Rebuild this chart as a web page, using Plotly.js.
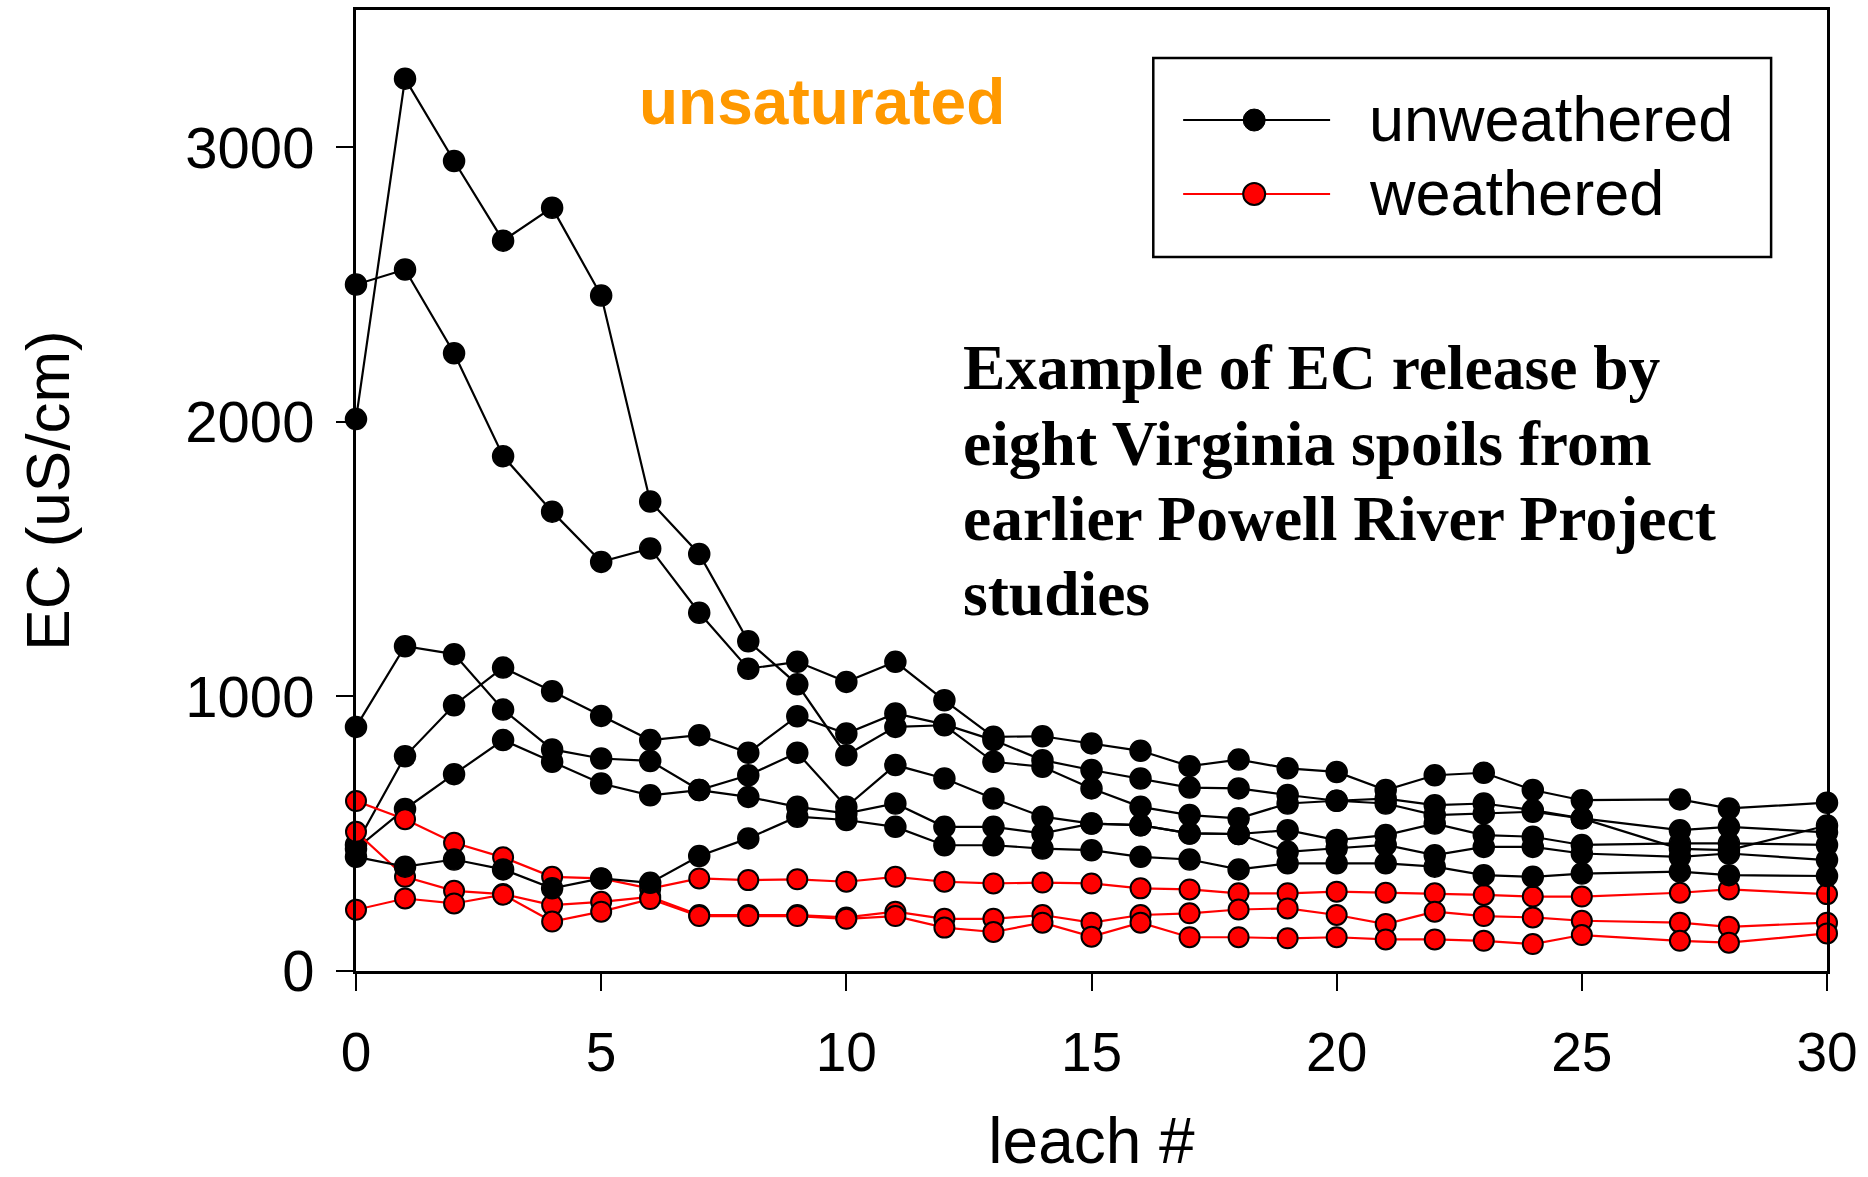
<!DOCTYPE html>
<html>
<head>
<meta charset="utf-8">
<script src="https://cdn.plot.ly/plotly-3.0.1.min.js"></script>
<style>
  html, body { margin: 0; padding: 0; background: #ffffff; }
  #chart { width: 1868px; height: 1177px; }
</style>
</head>
<body>
<div id="chart"></div>
<script>
// leach number (x) — leaches 26 and 29 were not sampled
const leach = [0,1,2,3,4,5,6,7,8,9,10,11,12,13,14,15,16,17,18,19,20,21,22,23,24,25,27,28,30];

// unweathered spoils, EC (uS/cm)
const unweathered1 = [2010,3250,2950,2660,2780,2460,1710,1519,1201,1044,786,889,895,762,744,665,598,568,556,610,620,610,568,574,580,556,445,440,530];
const unweathered2 = [2500,2555,2250,1875,1673,1490,1539,1305,1101,1126,1053,1126,986,853,855,829,802,746,770,738,725,659,713,722,659,622,625,592,613];
const unweathered3 = [889,1183,1154,952,807,774,765,659,713,795,598,750,701,628,562,537,531,501,499,513,477,495,537,495,489,459,465,465,459];
const unweathered4 = [460,782,968,1105,1019,929,841,859,795,928,865,938,898,841,768,732,701,668,665,641,620,628,604,610,586,556,513,525,505];
const unweathered5 = [445,590,717,841,762,683,640,659,634,598,574,610,525,525,501,537,531,501,499,434,447,459,422,452,452,428,416,428,404];
const unweathered6 = [416,380,406,370,301,337,321,419,483,562,550,525,458,458,446,440,416,406,370,392,392,392,380,349,343,355,362,349,346];

// weathered spoils, EC (uS/cm)
const weathered1 = [619,553,467,414,343,337,300,337,331,334,325,343,325,319,322,319,301,297,283,283,289,285,283,277,271,271,285,297,280];
const weathered2 = [507,343,292,280,240,252,270,204,204,204,195,216,190,190,204,176,204,210,224,228,204,171,216,200,195,183,176,161,176];
const weathered3 = [223,264,246,278,180,216,262,200,200,200,190,200,158,142,176,125,176,123,123,119,123,115,115,110,98,131,110,103,137];

// text
const legendLabels = ["unweathered", "weathered"];
const noteLines = ["Example of EC release by", "eight Virginia spoils from", "earlier Powell River Project", "studies"];
const panelLabel = "unsaturated";
const xTitle = "leach #";
const yTitle = "EC (uS/cm)";
const xTicks = [0,5,10,15,20,25,30];
const yTicks = [0,1000,2000,3000];

const BLACK = "#000000";
const RED = "#ff0000";

function unweatheredTrace(vals) {
  return {
    x: leach, y: vals, type: "scatter", mode: "lines+markers",
    line: { color: BLACK, width: 2.2 },
    marker: { symbol: "circle", size: 21, color: BLACK, line: { color: BLACK, width: 1.5 } },
    cliponaxis: false, showlegend: false, hoverinfo: "x+y"
  };
}
function weatheredTrace(vals) {
  return {
    x: leach, y: vals, type: "scatter", mode: "lines+markers",
    line: { color: RED, width: 2.2 },
    marker: { symbol: "circle", size: 20, color: RED, line: { color: BLACK, width: 2 } },
    cliponaxis: false, showlegend: false, hoverinfo: "x+y"
  };
}

const data = [
  unweatheredTrace(unweathered1),
  unweatheredTrace(unweathered2),
  unweatheredTrace(unweathered3),
  unweatheredTrace(unweathered4),
  unweatheredTrace(unweathered5),
  weatheredTrace(weathered1),
  weatheredTrace(weathered2),
  weatheredTrace(weathered3),
  unweatheredTrace(unweathered6)
];

// layout geometry (paper coordinates)
const L = { x0: 0.542, x1: 0.962, y0: 0.743, y1: 0.950 };
const legLine = { x0: 0.5623, x1: 0.6622, xm: 0.6106 };
const legRows = [0.8855, 0.8085];
const rx = 11 / 1471.5, ry = 11 / 961;

const shapes = [
  { type: "rect", xref: "paper", yref: "paper", x0: L.x0, x1: L.x1, y0: L.y0, y1: L.y1,
    line: { color: BLACK, width: 2.5 }, fillcolor: "rgba(0,0,0,0)", layer: "above" }
];
const legColors = [BLACK, RED];
legRows.forEach((yy, i) => {
  shapes.push({ type: "line", xref: "paper", yref: "paper", x0: legLine.x0, x1: legLine.x1, y0: yy, y1: yy,
    line: { color: legColors[i], width: 2 } });
  shapes.push({ type: "circle", xref: "paper", yref: "paper",
    x0: legLine.xm - rx, x1: legLine.xm + rx, y0: yy - ry, y1: yy + ry,
    fillcolor: legColors[i], line: { color: BLACK, width: i === 0 ? 1 : 2 } });
});

const annotations = [];
legendLabels.forEach((t, i) => {
  annotations.push({ xref: "paper", yref: "paper", x: 0.6875, y: legRows[i] + 0.0015, xanchor: "left", yanchor: "middle",
    text: t, showarrow: false, font: { family: "Liberation Sans, Arial, sans-serif", size: 63, color: BLACK } });
});
annotations.push({ xref: "paper", yref: "paper", x: 0.317, y: 0.904, xanchor: "center", yanchor: "middle",
  text: "<b>" + panelLabel + "</b>", showarrow: false,
  font: { family: "Liberation Sans, Arial, sans-serif", size: 64, color: "#ff9900" } });
const noteY = [0.6275, 0.5494, 0.4713, 0.3933];
noteLines.forEach((t, i) => {
  annotations.push({ xref: "paper", yref: "paper", x: 0.4112, y: noteY[i], xanchor: "left", yanchor: "middle",
    text: "<b>" + t + "</b>", showarrow: false,
    font: { family: "Liberation Serif, 'Times New Roman', serif", size: 63.5, color: BLACK } });
});

const layout = {
  width: 1868, height: 1177,
  margin: { l: 355.5, r: 41, t: 10, b: 206 },
  paper_bgcolor: "#ffffff", plot_bgcolor: "#ffffff",
  showlegend: false,
  xaxis: {
    range: [0, 30], tickvals: xTicks, ticktext: xTicks.map(String),
    showgrid: false, zeroline: false,
    showline: true, linecolor: BLACK, linewidth: 3, mirror: true,
    ticks: "outside", ticklen: 17, tickwidth: 2, tickcolor: BLACK,
    ticklabelstandoff: 14,
    tickfont: { family: "Liberation Sans, Arial, sans-serif", size: 55, color: BLACK },
    title: { text: xTitle, standoff: 57, font: { family: "Liberation Sans, Arial, sans-serif", size: 64, color: BLACK } }
  },
  yaxis: {
    range: [0, 3500], tickvals: yTicks, ticktext: yTicks.map(String),
    showgrid: false, zeroline: false,
    showline: true, linecolor: BLACK, linewidth: 3, mirror: true,
    ticks: "outside", ticklen: 17, tickwidth: 2, tickcolor: BLACK,
    ticklabelstandoff: 10,
    tickfont: { family: "Liberation Sans, Arial, sans-serif", size: 58, color: BLACK },
    title: { text: yTitle, standoff: 96, font: { family: "Liberation Sans, Arial, sans-serif", size: 62, color: BLACK } }
  },
  shapes: shapes,
  annotations: annotations
};

Plotly.newPlot("chart", data, layout, { displayModeBar: false, staticPlot: true });
</script>
</body>
</html>
